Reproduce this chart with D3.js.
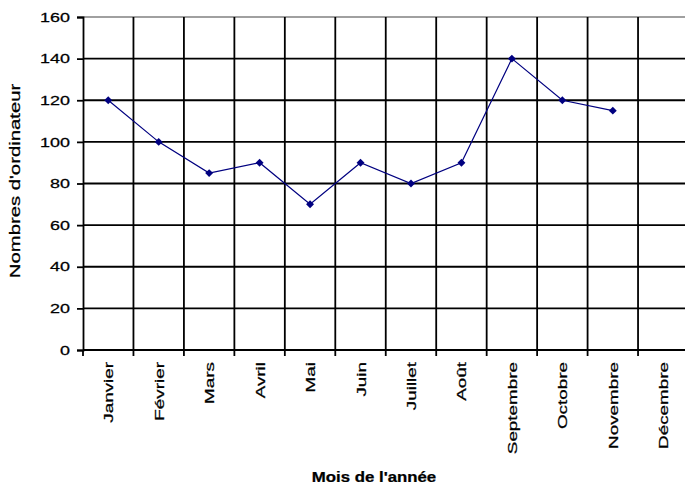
<!DOCTYPE html>
<html><head><meta charset="utf-8">
<script src="https://cdn.jsdelivr.net/npm/d3@7"></script>
<style>body{margin:0;background:#fff}text{font-family:Arial,"Liberation Sans",sans-serif;fill:#000;stroke:#000;stroke-width:0.25px}</style>
</head><body><svg id="c" width="685" height="489"></svg>
<script>
const months = ["Janvier","Février","Mars","Avril","Mai","Juin","Juillet","Août","Septembre","Octobre","Novembre","Décembre"];
const values = [120,100,85,90,70,90,80,90,140,120,115,null];
const yTicks = [0,20,40,60,80,100,120,140,160];
const xTitle = "Mois de l'année";
const yTitle = "Nombres d'ordinateur";

const svg = d3.select("#c");
const x = d3.scaleBand().domain(months).range([83, 688.5]).padding(0);
const y = d3.scaleLinear().domain([0,160]).range([350,17]);

// horizontal gridlines
svg.append("g").selectAll("line").data(yTicks.filter(d=>d>0)).join("line")
  .attr("x1", 83).attr("x2", 689).attr("y1", d=>y(d)).attr("y2", d=>y(d))
  .attr("stroke", d=>d===160?"#a0a0a0":"#000").attr("stroke-width", 1.8);
// vertical gridlines
svg.append("g").selectAll("line").data(months.slice(1)).join("line")
  .attr("x1", d=>x(d)).attr("x2", d=>x(d)).attr("y1", y(160)).attr("y2", y(0))
  .attr("stroke", "#000").attr("stroke-width", 1.8);

// y axis
const yAxis = svg.append("g").attr("transform","translate(83,0)")
  .call(d3.axisLeft(y).tickValues(yTicks).tickSize(6).tickPadding(7));
yAxis.select(".domain").attr("stroke","#000").attr("stroke-width",1.8);
yAxis.selectAll(".tick line").attr("stroke","#000").attr("stroke-width",1.8);
yAxis.selectAll(".tick text").attr("font-size",13).attr("fill","#000")
  .each(function(){
    const t = d3.select(this);
    const xx = +t.attr("x");
    t.attr("x", null).attr("transform", `translate(${xx},0) scale(1.38,1)`);
  });

// x axis (ticks at category boundaries)
const xb = svg.append("g");
xb.append("line").attr("x1",83).attr("x2",689).attr("y1",y(0)).attr("y2",y(0))
  .attr("stroke","#000").attr("stroke-width",1.8);
xb.selectAll("line.tk").data(months.concat(["_end"])).join("line").attr("class","tk")
  .attr("x1", (d,i)=> i<12 ? x(d) : x(months[11])+x.bandwidth())
  .attr("x2", (d,i)=> i<12 ? x(d) : x(months[11])+x.bandwidth())
  .attr("y1", y(0)).attr("y2", y(0)+6).attr("stroke","#000").attr("stroke-width",1.8);
xb.selectAll("text").data(months).join("text")
  .attr("transform", d=>`translate(${x(d)+x.bandwidth()/2+5},362) rotate(-90) scale(1.45,1)`)
  .attr("text-anchor","end").attr("font-size",13).text(d=>d);

// line
const pts = months.map((m,i)=>({m, v: values[i]})).filter(d=>d.v!==null);
const cx = d=>x(d.m)+x.bandwidth()/2;
svg.append("path").datum(pts)
  .attr("d", d3.line().x(cx).y(d=>y(d.v)))
  .attr("fill","none").attr("stroke","#000080").attr("stroke-width",1.2);
svg.append("g").selectAll("path").data(pts).join("path")
  .attr("transform", d=>`translate(${cx(d)},${y(d.v)})`)
  .attr("d", d3.symbol(d3.symbolDiamond2 || d3.symbolDiamond, 40))
  .attr("fill","#000080");

// titles
svg.append("text").attr("transform","translate(374,482) scale(1.2,1)")
  .attr("text-anchor","middle").attr("font-size",14).attr("font-weight","bold").text(xTitle);
svg.append("text").attr("transform","translate(20,181) rotate(-90) scale(1.45,1)")
  .attr("text-anchor","middle").attr("font-size",14).text(yTitle);
</script></body></html>
